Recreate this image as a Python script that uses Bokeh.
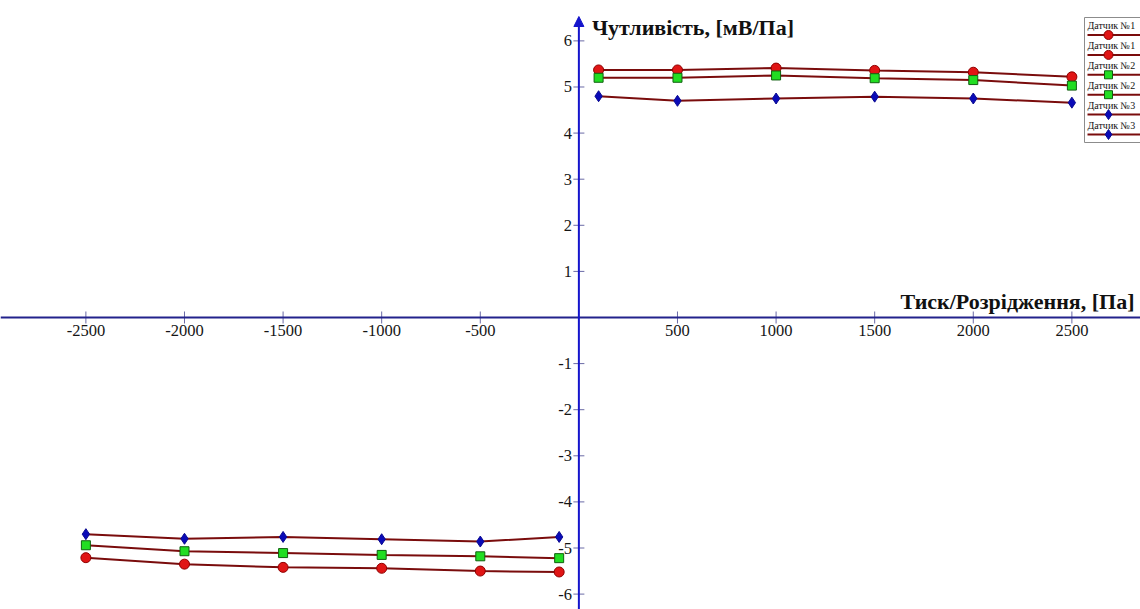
import numpy as np
from bokeh.plotting import figure
from bokeh.models import Range1d, Span, Arrow, NormalHead
from bokeh.core.properties import value
from bokeh.embed import file_html
from bokeh.resources import INLINE

# ---------------- data ----------------
x_pos = [100, 500, 1000, 1500, 2000, 2500]
x_neg = [-2500, -2000, -1500, -1000, -500, -100]
s1_pos = [5.37, 5.37, 5.41, 5.36, 5.32, 5.22]
s2_pos = [5.20, 5.20, 5.25, 5.19, 5.15, 5.03]
s3_pos = [4.80, 4.70, 4.75, 4.79, 4.75, 4.66]
s1_neg = [-5.21, -5.35, -5.42, -5.44, -5.50, -5.52]
s2_neg = [-4.94, -5.07, -5.11, -5.15, -5.18, -5.22]
s3_neg = [-4.70, -4.80, -4.76, -4.81, -4.86, -4.76]

x_ticks = [-2500, -2000, -1500, -1000, -500, 500, 1000, 1500, 2000, 2500]
x_tick_labels = ["-2500", "-2000", "-1500", "-1000", "-500", "500", "1000", "1500", "2000", "2500"]
y_ticks = [-6, -5, -4, -3, -2, -1, 1, 2, 3, 4, 5, 6]
y_tick_labels = ["-6", "-5", "-4", "-3", "-2", "-1", "1", "2", "3", "4", "5", "6"]
legend_labels = ["Датчик №1", "Датчик №1", "Датчик №2", "Датчик №2", "Датчик №3", "Датчик №3"]
x_title = "Тиск/Розрідження, [Па]"
y_title = "Чутливість, [мВ/Па]"

# ---------------- layout ----------------
W, H = 1140, 609
X0, X1 = -2933, 2848
Y0, Y1 = -6.334, 6.876


def dx(px):
    return X0 + px * (X1 - X0) / W


def dy(py):
    return Y1 - py * (Y1 - Y0) / H


FONT = value("Liberation Serif")
LINE_C = "#7a0c0c"
styles = [
    dict(marker="circle", size=10, fill_color="#e01515", line_color="#900000"),
    dict(marker="square", size=9, fill_color="#22dd22", line_color="#106010"),
    dict(marker="diamond", size=11, fill_color="#0a0ab8", line_color="#0a0a90"),
]

p = figure(width=W, height=H, x_range=Range1d(X0, X1), y_range=Range1d(Y0, Y1),
           output_backend="svg", toolbar_location=None, title=None,
           x_axis_type=None, y_axis_type=None, min_border=0,
           min_border_left=0, min_border_right=0, min_border_top=0, min_border_bottom=0,
           outline_line_color=None, background_fill_color="white",
           border_fill_color="white")
p.grid.visible = False

# axes
p.add_layout(Span(location=0, dimension="width", line_color="#22228c", line_width=2))
ax_c = "#1414cc"
p.add_layout(Arrow(end=NormalHead(size=10, fill_color=ax_c, line_color=ax_c),
                   x_start=0, y_start=Y0, x_end=0, y_end=dy(16),
                   line_color=ax_c, line_width=2))

# tick marks
tick_c = "#6a6aa6"
p.scatter(x_ticks, [0] * len(x_ticks), marker="dash", angle=np.pi / 2, size=12,
          line_color=tick_c, line_width=1)
p.scatter([0] * len(y_ticks), y_ticks, marker="dash", size=11,
          line_color=tick_c, line_width=1)

# tick labels
p.text(x=x_ticks, y=[0] * len(x_ticks), text=x_tick_labels, y_offset=8,
       text_align="center", text_baseline="top", text_font=FONT,
       text_font_size="16.5px", text_color="#151515")
p.text(x=[0] * len(y_ticks), y=y_ticks, text=y_tick_labels, x_offset=-7,
       text_align="right", text_baseline="middle", text_font=FONT,
       text_font_size="16.5px", text_color="#151515")

# axis titles
p.text(x=[0], y=[dy(27)], text=[y_title], x_offset=13, text_align="left",
       text_baseline="middle", text_font=FONT, text_font_style="bold",
       text_font_size="22px", text_color="#111111")
p.text(x=[dx(900)], y=[0], text=[x_title], y_offset=-16, text_align="left",
       text_baseline="middle", text_font=FONT, text_font_style="bold",
       text_font_size="22px", text_color="#111111")

# series
series = [(x_pos, s1_pos, 0), (x_neg, s1_neg, 0),
          (x_pos, s2_pos, 1), (x_neg, s2_neg, 1),
          (x_pos, s3_pos, 2), (x_neg, s3_neg, 2)]
for xs, ys, k in series:
    p.line(xs, ys, line_color=LINE_C, line_width=2)
for xs, ys, k in series:
    p.scatter(xs, ys, line_width=1, **styles[k])

# legend (label above sample line, as in the reference)
p.quad(left=[dx(1084)], right=[dx(1200)], top=[dy(17)], bottom=[dy(142)],
       fill_color="white", line_color="#8c8c8c", line_width=1)
order = [0, 0, 1, 1, 2, 2]
for i, lab in enumerate(legend_labels):
    ty = dy(25 + 19.9 * i)
    ly = dy(34.5 + 19.9 * i)
    p.text(x=[dx(1087)], y=[ty], text=[lab], text_align="left",
           text_baseline="middle", text_font=FONT, text_font_size="10px",
           text_color="#111111")
    p.line([dx(1087), dx(1160)], [ly, ly], line_color=LINE_C, line_width=2)
    st = dict(styles[order[i]])
    st["size"] = st["size"] - 1
    p.scatter([dx(1108)], [ly], line_width=1, **st)

open("out.html", "w").write(file_html(p, INLINE))
